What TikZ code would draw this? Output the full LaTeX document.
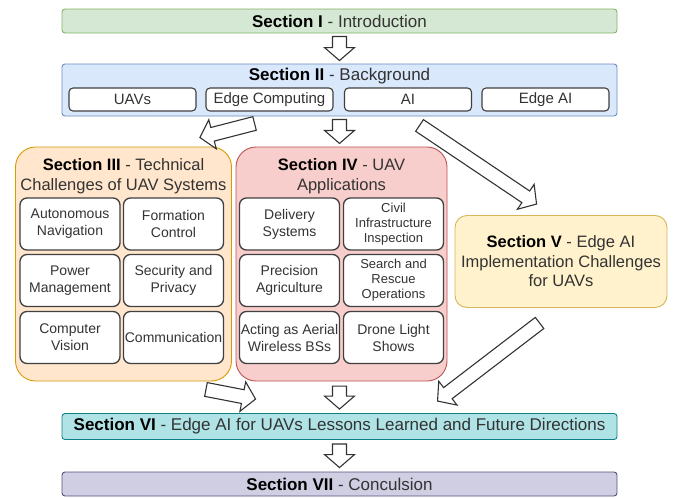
\documentclass[tikz,border=0pt]{standalone}
\usepackage{fontspec}
\setmainfont{Liberation Sans}
\usetikzlibrary{calc}
\definecolor{gF}{HTML}{D5E8D4}\definecolor{gD}{HTML}{82B366}
\definecolor{bF}{HTML}{DAE8FC}\definecolor{bD}{HTML}{6C8EBF}
\definecolor{oF}{HTML}{FFE6CC}\definecolor{oD}{HTML}{D79B00}
\definecolor{rF}{HTML}{F8CECC}\definecolor{rD}{HTML}{B85450}
\definecolor{yF}{HTML}{FFF2CC}\definecolor{yD}{HTML}{D6B656}
\definecolor{tF}{HTML}{B0E3E6}\definecolor{tD}{HTML}{0E8088}
\definecolor{pF}{HTML}{D0CEE2}\definecolor{pD}{HTML}{56517E}
\definecolor{txt}{HTML}{333333}
\definecolor{inD}{HTML}{404040}
\newcommand\blockarr[2]{%
  \coordinate (hh) at ($(#2)!13pt!(#1)$);
  \draw[barrow] ($(#1)!7pt!90:(#2)$) -- ($(hh)!7pt!90:(#2)$) -- ($(hh)!15pt!90:(#2)$) -- (#2)
    -- ($(hh)!15pt!-90:(#2)$) -- ($(hh)!7pt!-90:(#2)$) -- ($(#1)!7pt!-90:(#2)$) -- cycle;}
\begin{document}
\begin{tikzpicture}[x=1pt,y=-1pt,
  bar/.style={draw, rounded corners=3pt, minimum width=555pt, inner sep=0pt, line width=0.9pt,
    text=txt, font=\fontsize{17}{20}\selectfont},
  bigbox/.style={draw, rounded corners=20pt, inner sep=0pt, line width=0.9pt},
  ttl/.style={text=txt, align=center, inner sep=0pt, font=\fontsize{16.5}{20.5}\selectfont},
  inbox/.style={draw=inD, fill=white, rounded corners=7pt, line width=1.3pt, inner sep=0pt,
    align=center, text=txt, font=\fontsize{14}{17}\selectfont},
  small/.style={font=\fontsize{13}{15}\selectfont},
  barrow/.style={draw=txt, fill=white, line width=1.1pt, line join=miter}]
\useasboundingbox (0,0) rectangle (685,498);
% Section I
\node[bar, fill=gF, draw=gD, minimum height=24pt] (s1) at (339.5,21) {\textbf{\color{black}Section I} - Introduction};
% Section II
\node[bar, fill=bF, draw=bD, minimum height=52pt] (s2) at (339.5,90) {};
\node[ttl, font=\fontsize{17}{20}\selectfont] (s2t) at (339.5,76) {\textbf{\color{black}Section II} - Background};
\node[inbox, minimum width=127pt, minimum height=23pt, rounded corners=4pt, line width=1.1pt, font=\fontsize{15}{18}\selectfont] (b1) at (132.5,99.5) {UAVs};
\node[inbox, minimum width=127pt, minimum height=23pt, rounded corners=4pt, line width=1.1pt, font=\fontsize{15}{18}\selectfont] (b2) at (269.5,99.5) {Edge Computing};
\node[inbox, minimum width=127pt, minimum height=23pt, rounded corners=4pt, line width=1.1pt, font=\fontsize{15}{18}\selectfont] (b3) at (408,99.5) {AI};
\node[inbox, minimum width=127pt, minimum height=23pt, rounded corners=4pt, line width=1.1pt, font=\fontsize{15}{18}\selectfont] (b4) at (545.5,99.5) {Edge AI};
% Section III
\node[bigbox, fill=oF, draw=oD, minimum width=216pt, minimum height=234pt] (s3) at (123.5,264) {};
\node[ttl] (s3t) at (123.5,176) {\textbf{\color{black}Section III} - Technical\\Challenges of UAV Systems};
\node[inbox, minimum width=100pt, minimum height=52pt] (c1) at (70,224) {Autonomous\\Navigation};
\node[inbox, minimum width=100pt, minimum height=52pt] (c2) at (173.5,224) {Formation\\Control};
\node[inbox, minimum width=100pt, minimum height=52pt] (c3) at (70,280.5) {Power\\Management};
\node[inbox, minimum width=100pt, minimum height=52pt] (c4) at (173.5,280.5) {Security and\\Privacy};
\node[inbox, minimum width=100pt, minimum height=52pt] (c5) at (70,337.5) {Computer\\Vision};
\node[inbox, minimum width=100pt, minimum height=52pt] (c6) at (173.5,337.5) {Communication};
% Section IV
\node[bigbox, fill=rF, draw=rD, minimum width=211pt, minimum height=234pt] (s4) at (341.5,264) {};
\node[ttl] (s4t) at (341.5,176) {\textbf{\color{black}Section IV} - UAV\\Applications};
\node[inbox, minimum width=100pt, minimum height=52pt] (d1) at (289.5,224) {Delivery\\Systems};
\node[inbox, minimum width=100pt, minimum height=52pt, small] (d2) at (393.5,224) {Civil\\Infrastructure\\Inspection};
\node[inbox, minimum width=100pt, minimum height=52pt] (d3) at (289.5,280.5) {Precision\\Agriculture};
\node[inbox, minimum width=100pt, minimum height=52pt, small] (d4) at (393.5,280.5) {Search and\\Rescue\\Operations};
\node[inbox, minimum width=100pt, minimum height=52pt] (d5) at (289.5,337.5) {Acting as Aerial\\Wireless BSs};
\node[inbox, minimum width=100pt, minimum height=52pt] (d6) at (393.5,337.5) {Drone Light\\Shows};
% Section V
\node[bigbox, fill=yF, draw=yD, rounded corners=12pt, minimum width=212pt, minimum height=92pt] (s5) at (561,261.5) {};
\node[ttl, font=\fontsize{16.5}{19.5}\selectfont] (s5t) at (561,261.5) {\textbf{\color{black}Section V} - Edge AI\\Implementation Challenges\\for UAVs};
% Section VI, VII
\node[bar, fill=tF, draw=tD, minimum height=26pt] (s6) at (339.5,426.5) {\textbf{\color{black}Section VI} - Edge AI for UAVs Lessons Learned and Future Directions};
\node[bar, fill=pF, draw=pD, minimum height=24pt] (s7) at (339.5,484) {\textbf{\color{black}Section VII} - Conculsion};
% arrow end points
\coordinate (a1s) at ($(s1.south)+(0,3)$);
\coordinate (a1e) at ($(s2.north)+(0,-3)$);
\coordinate (a2s) at ($(s2.south west)+(193,7)$);
\coordinate (a2e) at ($(s3.north east)+(-32,-9)$);
\coordinate (a3s) at ($(s2.south)+(0,3)$);
\coordinate (a3e) at ($(s2.south)+(0,27)$);
\coordinate (a4s) at ($(s2.south west)+(358,9)$);
\coordinate (a4e) at ($(s5.north west)+(82,-11)$);
\coordinate (a5s) at ($(s3.south east)+(-26,8)$);
\coordinate (a5e) at ($(s6.north west)+(194,-14)$);
\coordinate (a6s) at ($(s6.north)+(0,-27)$);
\coordinate (a6e) at ($(s6.north)+(0,-4)$);
\coordinate (a7s) at ($(s5.south west)+(85,15)$);
\coordinate (a7e) at ($(s6.north west)+(376,-12)$);
\coordinate (a8s) at ($(s6.south)+(0,4)$);
\coordinate (a8e) at ($(s7.north)+(0,-4)$);
\blockarr{a1s}{a1e}
\blockarr{a2s}{a2e}
\blockarr{a3s}{a3e}
\blockarr{a4s}{a4e}
\blockarr{a5s}{a5e}
\blockarr{a6s}{a6e}
\blockarr{a7s}{a7e}
\blockarr{a8s}{a8e}
\end{tikzpicture}
\end{document}
